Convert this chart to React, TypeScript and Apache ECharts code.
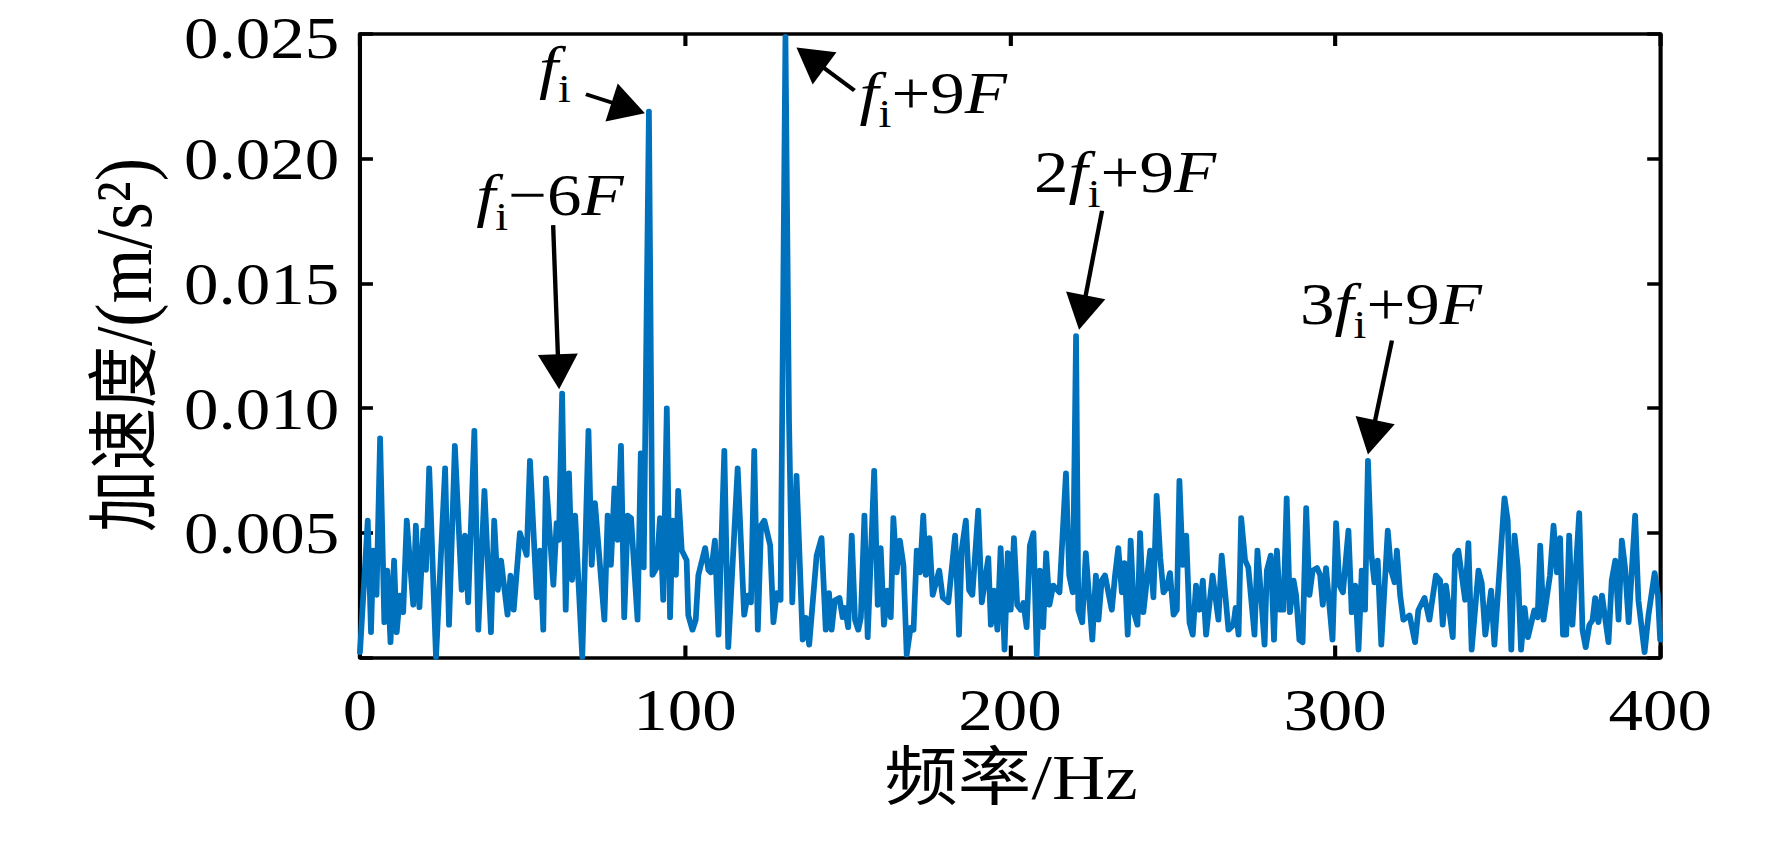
import React, { useEffect, useRef } from "react";
import * as echarts from "echarts";

// ---------------- data ----------------
const X_MIN = 0;
const X_MAX = 400;
const X_INTERVAL = 100;
const Y_MIN = 0;
const Y_MAX = 0.025;
const Y_INTERVAL = 0.005;

const X_NAME = "频率/Hz";
const Y_NAME_CJK = "加速度";
const Y_NAME_UNIT = "/(m/s²)";

// [frequency Hz, acceleration m/s^2]
const SPECTRUM: [number, number][] = [
  [0, 0.0002], [2.4, 0.0055], [3.4, 0.001], [4.1, 0.0043], [5.1, 0.0025], [6.2, 0.0088], [7.5, 0.0014], [8.4, 0.0035],
  [9.4, 0.0006], [10.5, 0.0039], [11.3, 0.001], [12.3, 0.0025], [13.3, 0.0018], [14.4, 0.0055], [16.4, 0.0021], [17.2, 0.0053],
  [18.3, 0.002], [19.5, 0.0051], [20.3, 0.0035], [21.3, 0.0076], [23.4, 0.0], [26.2, 0.0076], [27.4, 0.0013], [29.2, 0.0085],
  [31.3, 0.0027], [32.3, 0.0049], [33.3, 0.0022], [35.2, 0.0091], [36.4, 0.0011], [38.3, 0.0067], [40.3, 0.001], [41.3, 0.0055],
  [42.4, 0.0027], [43.4, 0.0039], [45.4, 0.0017], [46.3, 0.0033], [47.3, 0.0019], [49.2, 0.005], [51.3, 0.0041], [52.3, 0.0079],
  [54.4, 0.0024], [55.4, 0.0043], [56.4, 0.0011], [57.2, 0.0072], [59.5, 0.0029], [60.5, 0.0054], [61.2, 0.0047], [62.2, 0.0106],
  [63.3, 0.0019], [64.3, 0.0074], [65.3, 0.0031], [66.2, 0.0057], [68.4, 0.0], [70.3, 0.0091], [71.3, 0.0037], [72.3, 0.0062],
  [75.2, 0.0015], [76.2, 0.0057], [77.2, 0.0037], [78.3, 0.0068], [79.3, 0.0047], [80.3, 0.0085], [81.3, 0.0016], [82.4, 0.0057],
  [83.4, 0.0056], [85.4, 0.0015], [86.4, 0.0082], [87.3, 0.0036], [88.9, 0.0219], [90.0, 0.0033], [91.3, 0.0036], [92.3, 0.0056],
  [93.3, 0.0023], [94.4, 0.01], [95.4, 0.0016], [96.2, 0.0055], [97.2, 0.0033], [97.9, 0.0067], [99.0, 0.0043], [100.5, 0.0039],
  [101.0, 0.0017], [102.3, 0.0011], [103.3, 0.0015], [104.1, 0.0033], [106.2, 0.0044], [107.2, 0.0035], [108.0, 0.0034], [109.2, 0.0047],
  [110.3, 0.0009], [112.1, 0.0083], [113.3, 0.0004], [116.2, 0.0076], [118.2, 0.0017], [119.3, 0.0025], [120.3, 0.0022], [121.3, 0.0083],
  [122.4, 0.0011], [123.4, 0.0053], [124.4, 0.0055], [126.2, 0.0045], [127.2, 0.0014], [128.2, 0.0026], [129.4, 0.0023], [130.9, 0.0249],
  [132.0, 0.0095], [133.0, 0.0022], [134.3, 0.0073], [136.2, 0.0007], [137.2, 0.0016], [138.2, 0.0005], [140.5, 0.0041], [142.0, 0.0048],
  [143.3, 0.0011], [144.3, 0.0026], [145.1, 0.0011], [146.1, 0.0023], [147.5, 0.0024], [148.5, 0.0016], [149.2, 0.002], [150.2, 0.0012],
  [151.3, 0.0049], [152.3, 0.0015], [153.3, 0.0011], [154.1, 0.0016], [155.2, 0.0057], [156.2, 0.0008], [158.2, 0.0075], [159.3, 0.0021],
  [160.2, 0.0044], [161.2, 0.0013], [162.3, 0.0027], [163.3, 0.0016], [164.1, 0.0056], [165.1, 0.0034], [166.1, 0.0047], [167.2, 0.0037],
  [168.2, 0.0001], [169.4, 0.0012], [170.3, 0.0011], [171.3, 0.0043], [172.3, 0.0034], [173.3, 0.0057], [174.1, 0.0033], [175.2, 0.0048],
  [176.2, 0.0025], [178.2, 0.0035], [179.3, 0.0024], [181.0, 0.0022], [183.1, 0.0049], [184.3, 0.0009], [185.1, 0.0043], [186.4, 0.0055],
  [187.4, 0.0027], [188.4, 0.0025], [190.2, 0.0059], [191.3, 0.0022], [192.3, 0.0031], [193.3, 0.004], [194.1, 0.0013], [195.1, 0.0027],
  [196.1, 0.0011], [197.1, 0.0044], [198.3, 0.0003], [199.3, 0.0042], [200.2, 0.0019], [201.2, 0.0048], [202.2, 0.0021], [203.3, 0.0019],
  [204.1, 0.0022], [205.1, 0.0012], [206.1, 0.0045], [207.2, 0.005], [208.2, 0.0001], [209.2, 0.0035], [210.2, 0.0012], [211.1, 0.0042],
  [212.1, 0.0021], [213.3, 0.0029], [215.2, 0.0026], [217.2, 0.0074], [218.2, 0.0033], [219.3, 0.0026], [220.3, 0.0129], [221.0, 0.0019],
  [222.2, 0.0014], [223.3, 0.0042], [225.3, 0.0007], [226.4, 0.0033], [227.2, 0.0015], [228.2, 0.0031], [229.2, 0.0033], [231.3, 0.0019],
  [232.3, 0.0033], [233.3, 0.0044], [234.4, 0.0026], [235.2, 0.0038], [236.2, 0.0009], [237.1, 0.0047], [238.1, 0.0018], [239.2, 0.0013],
  [240.0, 0.005], [241.0, 0.0018], [243.1, 0.0043], [244.1, 0.0024], [245.1, 0.0065], [246.2, 0.004], [247.2, 0.0026], [248.2, 0.0028],
  [249.2, 0.0034], [250.3, 0.0017], [251.3, 0.0019], [252.1, 0.0071], [253.1, 0.0037], [254.2, 0.0049], [255.2, 0.0014], [256.2, 0.0009],
  [257.2, 0.0029], [258.3, 0.0019], [259.3, 0.0031], [260.3, 0.0009], [262.3, 0.0033], [264.1, 0.0015], [265.1, 0.0041], [267.2, 0.0011],
  [268.7, 0.0013], [269.4, 0.002], [270.3, 0.0009], [271.1, 0.0056], [272.3, 0.0039], [273.3, 0.0036], [275.2, 0.0009], [276.1, 0.0043],
  [277.2, 0.0025], [278.3, 0.0005], [279.0, 0.0035], [280.2, 0.0041], [281.2, 0.0007], [282.1, 0.0043], [283.1, 0.0019], [284.1, 0.0019],
  [285.1, 0.0064], [286.1, 0.0018], [287.2, 0.0031], [288.0, 0.0025], [289.0, 0.0007], [290.0, 0.0006], [291.1, 0.006], [292.1, 0.0025],
  [293.1, 0.0035], [294.4, 0.0036], [295.4, 0.0033], [296.2, 0.0021], [297.2, 0.0036], [299.2, 0.0007], [300.3, 0.0054], [301.3, 0.0029],
  [302.4, 0.0026], [304.1, 0.0051], [305.1, 0.0018], [306.2, 0.0029], [307.2, 0.0003], [308.2, 0.0035], [309.2, 0.0019], [310.1, 0.0079],
  [311.1, 0.0042], [312.1, 0.003], [313.1, 0.0039], [314.2, 0.0005], [316.2, 0.0051], [317.2, 0.0035], [318.3, 0.003], [319.0, 0.0043],
  [320.0, 0.0025], [321.0, 0.0015], [322.9, 0.0017], [324.6, 0.0006], [325.6, 0.0019], [327.5, 0.0024], [329.0, 0.0015], [331.0, 0.0033],
  [332.3, 0.0031], [333.1, 0.0013], [334.1, 0.0029], [336.2, 0.0008], [336.9, 0.0041], [337.9, 0.0043], [340.0, 0.0023], [341.0, 0.0046],
  [342.0, 0.0003], [344.1, 0.0035], [345.1, 0.003], [346.2, 0.0009], [348.0, 0.0027], [349.0, 0.0005], [352.1, 0.0064], [353.1, 0.0055],
  [354.2, 0.0003], [355.2, 0.0049], [356.2, 0.0036], [357.2, 0.0003], [358.3, 0.002], [359.3, 0.0008], [361.3, 0.0019], [362.3, 0.0016],
  [363.1, 0.0045], [364.1, 0.0015], [366.1, 0.0033], [367.2, 0.0053], [368.2, 0.0034], [369.2, 0.0048], [370.1, 0.0009], [371.1, 0.0009],
  [372.0, 0.0049], [373.0, 0.0013], [375.1, 0.0058], [376.1, 0.0011], [377.1, 0.0004], [378.2, 0.0013], [379.2, 0.0015], [380.0, 0.0024],
  [381.0, 0.0014], [382.1, 0.0025], [384.1, 0.0006], [385.1, 0.0031], [386.2, 0.0039], [387.2, 0.0015], [388.2, 0.0047], [389.2, 0.0036],
  [390.3, 0.0014], [392.3, 0.0057], [393.3, 0.0023], [395.2, 0.0002], [396.4, 0.0017], [398.3, 0.0034], [399.3, 0.0025], [400.0, 0.0007],
];

// annotated peak frequencies (Hz)
const PEAK_FREQS = [62.2, 88.9, 130.9, 220.3, 310.1];

type Seg = { t: string; it?: boolean; sub?: boolean };
// label text pieces for each annotated peak
const PEAK_LABELS: Seg[][] = [
  [{ t: "f", it: true }, { t: "i", sub: true }, { t: "\u22126" }, { t: "F", it: true }],
  [{ t: "f", it: true }, { t: "i", sub: true }],
  [{ t: "f", it: true }, { t: "i", sub: true }, { t: "+9" }, { t: "F", it: true }],
  [{ t: "2" }, { t: "f", it: true }, { t: "i", sub: true }, { t: "+9" }, { t: "F", it: true }],
  [{ t: "3" }, { t: "f", it: true }, { t: "i", sub: true }, { t: "+9" }, { t: "F", it: true }],
];

// ---------------- layout (page pixels) ----------------
const S = 1.15; // horizontal stretch of the original figure
const PAGE_W = 1772;
const PAGE_H = 853;
const CW = PAGE_W / S;

// offsets from each peak (page px): label origin/baseline, arrow tip, arrow tail
const LABEL_OFFSETS = [[-86, -178], [-110, -24], [74, 76], [-42, -144], [-68, -137]];
const TIP_OFFSETS = [[-3, -4], [-4, 2], [11, 11], [3, -6], [0, -6]];
const TAIL_OFFSETS = [[-9, -168], [-63, -17], [69, 54], [26, -125], [24, -120]];

const FONT = '"Liberation Serif", "Noto Sans CJK SC", serif';
const FS = 60;
const SUB_FS = 40;
const SUB_DY = 15;
const HEAD_L = 35;
const HEAD_W = 40;
const LINE_COLOR = "#0072BD";

function ampAt(freq: number): number {
  let best = SPECTRUM[0];
  for (const p of SPECTRUM) if (Math.abs(p[0] - freq) < Math.abs(best[0] - freq)) best = p;
  return best[1];
}

export default function App() {
  const ref = useRef<HTMLDivElement>(null);

  useEffect(() => {
    if (!ref.current) return;
    const chart = echarts.init(ref.current, null, { renderer: "svg" });

    const axisLine = { show: true, onZero: false, lineStyle: { color: "#000", width: 3.6 } };
    const labelStyle = { fontSize: FS, fontFamily: FONT, color: "#000", lineHeight: 50 };

    chart.setOption({
      animation: false,
      backgroundColor: "#fff",
      grid: { left: 313, right: CW - 1443.5, top: 31, bottom: PAGE_H - 657.5, containLabel: false },
      xAxis: [
        {
          type: "value", min: X_MIN, max: X_MAX, interval: X_INTERVAL, position: "bottom",
          axisLine, axisTick: { show: true, inside: true, length: 12, lineStyle: { color: "#000", width: 3.6 } },
          axisLabel: { ...labelStyle, margin: 27, formatter: (v: number) => String(v) },
          splitLine: { show: false },
        },
        {
          type: "value", min: X_MIN, max: X_MAX, interval: X_INTERVAL, position: "top",
          axisLine, axisTick: { show: true, inside: true, length: 12, lineStyle: { color: "#000", width: 3.6 } },
          axisLabel: { show: false }, splitLine: { show: false },
        },
      ],
      yAxis: [
        {
          type: "value", min: Y_MIN, max: Y_MAX, interval: Y_INTERVAL, position: "left",
          axisLine, axisTick: { show: true, inside: true, length: 11.3, lineStyle: { color: "#000", width: 3.6 } },
          axisLabel: {
            ...labelStyle,
            margin: 18,
            formatter: (v: number) => {
              if (v < 1e-9) return "";
              const s = v.toFixed(3);
              return v >= Y_MAX - 1e-9 ? `{top|${s}}` : s;
            },
            rich: {
              top: { fontSize: FS, fontFamily: FONT, color: "#000", lineHeight: 50, padding: [8, 0, 0, 0] },
            },
          },
          splitLine: { show: false },
        },
        {
          type: "value", min: Y_MIN, max: Y_MAX, interval: Y_INTERVAL, position: "right",
          axisLine, axisTick: { show: true, inside: true, length: 11.3, lineStyle: { color: "#000", width: 3.6 } },
          axisLabel: { show: false }, splitLine: { show: false },
        },
      ],
      series: [
        {
          type: "line",
          data: SPECTRUM,
          xAxisIndex: 0,
          yAxisIndex: 0,
          showSymbol: false,
          symbol: "none",
          lineStyle: { color: LINE_COLOR, width: 5, join: "round", cap: "round" },
          z: 1,
        },
      ],
    });

    const ctx = document.createElement("canvas").getContext("2d")!;
    const measure = (s: string, italic: boolean, size: number) => {
      ctx.font = `${italic ? "italic " : ""}${size}px ${FONT}`;
      return ctx.measureText(s).width;
    };

    const graphics: any[] = [];
    PEAK_FREQS.forEach((f, k) => {
      const amp = ampAt(f);
      const p = chart.convertToPixel({ seriesIndex: 0 }, [f, amp]) as number[];
      const rx = p[0] * S;
      const ry = p[1];
      const tip = [rx + TIP_OFFSETS[k][0], ry + TIP_OFFSETS[k][1]];
      const tail = [rx + TAIL_OFFSETS[k][0], ry + TAIL_OFFSETS[k][1]];
      const dx = tip[0] - tail[0];
      const dy = tip[1] - tail[1];
      const L = Math.hypot(dx, dy);
      const ux = dx / L;
      const uy = dy / L;
      const base = [tip[0] - ux * HEAD_L, tip[1] - uy * HEAD_L];
      const c1 = [base[0] - (uy * HEAD_W) / 2, base[1] + (ux * HEAD_W) / 2];
      const c2 = [base[0] + (uy * HEAD_W) / 2, base[1] - (ux * HEAD_W) / 2];
      graphics.push({
        type: "line",
        shape: { x1: tail[0] / S, y1: tail[1], x2: (base[0] + ux * 4) / S, y2: base[1] + uy * 4 },
        style: { stroke: "#000", lineWidth: 3.8 },
        z: 10,
      });
      graphics.push({
        type: "polygon",
        shape: { points: [[tip[0] / S, tip[1]], [c1[0] / S, c1[1]], [c2[0] / S, c2[1]]] },
        style: { fill: "#000" },
        z: 10,
      });
      let x = (rx + LABEL_OFFSETS[k][0]) / S;
      const baseline = ry + LABEL_OFFSETS[k][1];
      for (const seg of PEAK_LABELS[k]) {
        const size = seg.sub ? SUB_FS : FS;
        const bl = seg.sub ? baseline + SUB_DY : baseline;
        graphics.push({
          type: "text",
          x,
          y: bl - 0.3375 * size,
          z: 10,
          style: {
            text: seg.t,
            fill: "#000",
            fontSize: size,
            fontFamily: FONT,
            fontStyle: seg.it ? "italic" : "normal",
            align: "left",
            verticalAlign: "middle",
          },
        });
        x += measure(seg.t, !!seg.it, size);
      }
    });

    // axis titles
    graphics.push({
      type: "text",
      x: 1011 / S,
      y: 778,
      style: { text: X_NAME, fill: "#000", fontSize: 64, fontFamily: FONT, align: "center", verticalAlign: "middle" },
    });
    graphics.push({
      type: "text",
      x: 124 / S,
      y: 345,
      rotation: Math.PI / 2,
      style: {
        text: `{c|${Y_NAME_CJK}}{l|${Y_NAME_UNIT}}`,
        fill: "#000",
        fontFamily: FONT,
        align: "center",
        verticalAlign: "middle",
        rich: {
          c: { fontSize: 62, fontFamily: FONT, fill: "#000" },
          l: { fontSize: 70, fontFamily: FONT, fill: "#000" },
        },
      },
    });

    chart.setOption({ graphic: graphics });

    return () => chart.dispose();
  }, []);

  return (
    <div
      ref={ref}
      style={{
        position: "absolute",
        left: 0,
        top: 0,
        width: CW,
        height: PAGE_H,
        transform: `scaleX(${S})`,
        transformOrigin: "0 0",
        background: "#fff",
      }}
    />
  );
}
